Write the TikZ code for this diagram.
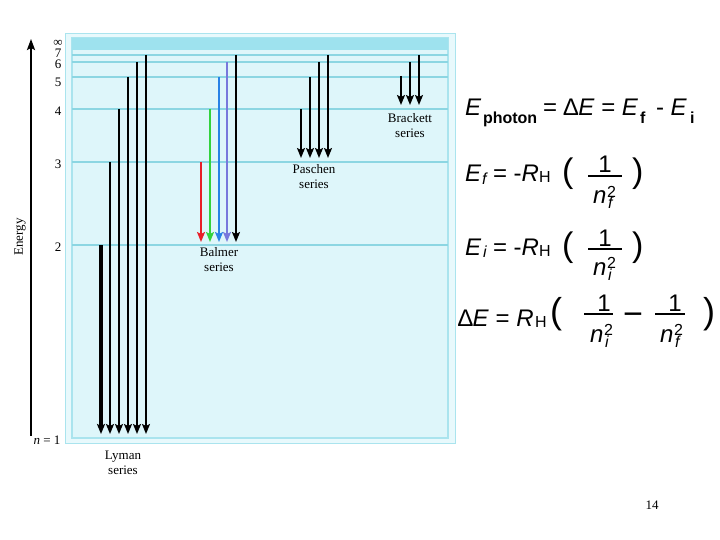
\documentclass[tikz,border=0pt]{standalone}
\usepackage{fontspec}
\setmainfont{Liberation Serif}
\newfontfamily\ar{Liberation Sans}
\usetikzlibrary{arrows.meta}
\definecolor{boxfill}{RGB}{222,246,250}
\definecolor{outerfill}{RGB}{232,249,252}
\definecolor{framec}{RGB}{170,228,238}
\definecolor{bandc}{RGB}{158,226,238}
\definecolor{lvl}{RGB}{140,214,226}
\definecolor{balred}{RGB}{232,30,40}
\definecolor{balgreen}{RGB}{50,210,60}
\definecolor{balblue}{RGB}{40,130,230}
\definecolor{balviolet}{RGB}{120,120,220}
\tikzset{
  trans/.style={-{Stealth[length=10pt,width=8pt,inset=2pt]}, line width=1.8pt},
  lvlline/.style={lvl, line width=1.4pt},
  serieslab/.style={font=\fontsize{13}{15}\selectfont, align=center, inner sep=0pt},
  numlab/.style={font=\fontsize{13}{13}\selectfont, inner sep=0pt},
  eqt/.style={anchor=base west, inner sep=0pt, outer sep=0pt},
  eqc/.style={anchor=base, inner sep=0pt, outer sep=0pt},
  bigf/.style={font=\ar\fontsize{24}{24}\selectfont},
  subf/.style={font=\ar\fontsize{16}{16}\selectfont},
  parf/.style={font=\ar\fontsize{34}{34}\selectfont},
  fracbar/.style={line width=2pt},
}
\begin{document}
\begin{tikzpicture}[x=1pt,y=-1pt]
\useasboundingbox (0,0) rectangle (720,540);
\fill[white] (0,0) rectangle (720,540);
% frame
\fill[outerfill] (65,33) rectangle (456,444);
\draw[framec, line width=1.5pt] (65.5,33.5) rectangle (455.5,443.5);
\fill[boxfill] (72,38) rectangle (448,438);
\draw[framec, line width=1.2pt] (72,38) rectangle (448,438);
\fill[bandc] (72,38) rectangle (448,50);
% levels
\foreach \y in {55,62,77,109,162,245} {\draw[lvlline] (72,\y) -- (448,\y);}
% energy axis
\draw[line width=2pt, -{Stealth[length=11pt,width=8pt,inset=2pt]}] (31,436) -- (31,39);
\node[numlab, rotate=90] (energy) at (20,237) {Energy};
% level labels
\node[numlab] (ninf) at (58,43) {∞};
\node[numlab] (n7) at (58,53) {7};
\node[numlab] (n6) at (58,64) {6};
\node[numlab] (n5) at (58,82) {5};
\node[numlab] (n4) at (58,111) {4};
\node[numlab] (n3) at (58,164) {3};
\node[numlab] (n2) at (58,247) {2};
\node[numlab] (n1) at (47,440) {\textit{n} = 1};
% Lyman
\draw[trans, line width=3.5pt] (101,245) -- (101,434);
\draw[trans] (110,162) -- (110,434);
\draw[trans] (119,109) -- (119,434);
\draw[trans] (128,77) -- (128,434);
\draw[trans] (137,62) -- (137,434);
\draw[trans, line width=1.5pt] (146,55) -- (146,434);
\node[serieslab] (lyman) at (123,463) {Lyman\\series};
% Balmer
\draw[trans, balred] (201,162) -- (201,242);
\draw[trans, balgreen] (210,109) -- (210,242);
\draw[trans, balblue] (219,77) -- (219,242);
\draw[trans, balviolet] (227,62) -- (227,242);
\draw[trans] (236,55) -- (236,242);
\node[serieslab] (balmer) at (219,260) {Balmer\\series};
% Paschen
\draw[trans] (301,109) -- (301,158);
\draw[trans] (310,77) -- (310,158);
\draw[trans] (319,62) -- (319,158);
\draw[trans] (328,55) -- (328,158);
\node[serieslab] (paschen) at (314,177) {Paschen\\series};
% Brackett
\draw[trans] (401,76) -- (401,105);
\draw[trans] (410,62) -- (410,105);
\draw[trans] (419,55) -- (419,105);
\node[serieslab] (brackett) at (410,126) {Brackett\\series};
% equation 1
\node[eqt, bigf] (e1a) at (465,116) {\textit{E}};
\node[eqt, subf] (e1b) at (483,124) {\textbf{photon}};
\node[eqt, bigf] (e1c) at (543,116) {= ∆\textit{E} = \textit{E}};
\node[eqt, subf] (e1d) at (640,124) {\textbf{f}};
\node[eqt, bigf] (e1e) at (656,116) {- \textit{E}};
\node[eqt, subf] (e1f) at (690,124) {\textbf{i}};
% equation 2
\node[eqt, bigf] (e2a) at (465,182) {\textit{E}};
\node[eqt, subf] (e2b) at (482,185) {\textit{f}};
\node[eqt, bigf] (e2c) at (493,182) {= -\textit{R}};
\node[eqt, subf] (e2d) at (539,183) {H};
\node[eqt, parf] (e2e) at (562,183) {(};
\node[eqc, bigf] (e2n) at (605,173) {1};
\draw[fracbar] (588,176) -- (622,176);
\node[eqt, bigf] (e2m) at (593,204) {\textit{n}};
\node[eqt, subf] (e2s) at (607,197) {2};
\node[eqt, subf] (e2t) at (608,209) {\textit{f}};
\node[eqt, parf] (e2p) at (632,183) {)};
% equation 3
\node[eqt, bigf] (e3a) at (465,255) {\textit{E}};
\node[eqt, subf] (e3b) at (483,258) {\textit{i}};
\node[eqt, bigf] (e3c) at (493,255) {= -\textit{R}};
\node[eqt, subf] (e3d) at (539,256) {H};
\node[eqt, parf] (e3e) at (562,256) {(};
\node[eqc, bigf] (e3n) at (605,247) {1};
\draw[fracbar] (588,249) -- (622,249);
\node[eqt, bigf] (e3m) at (593,275) {\textit{n}};
\node[eqt, subf] (e3s) at (607,268) {2};
\node[eqt, subf] (e3t) at (608,280) {\textit{i}};
\node[eqt, parf] (e3p) at (632,256) {)};
% equation 4
\node[eqt, bigf] (e4a) at (458,326) {∆\textit{E} = \textit{R}};
\node[eqt, subf] (e4d) at (535,327) {H};
\node[eqt, parf, font=\ar\fontsize{36}{36}\selectfont] (e4e) at (550,323) {(};
\node[eqc, bigf] (e4n) at (604,311) {1};
\draw[fracbar] (584,314) -- (613,314);
\node[eqt, bigf] (e4m) at (590,342) {\textit{n}};
\node[eqt, subf] (e4s) at (604,335) {2};
\node[eqt, subf] (e4t) at (605,347) {\textit{i}};
\node[eqt, parf] (e4minus) at (623,325) {−};
\node[eqc, bigf] (e4n2) at (675,311) {1};
\draw[fracbar] (655,314) -- (685,314);
\node[eqt, bigf] (e4m2) at (660,342) {\textit{n}};
\node[eqt, subf] (e4s2) at (674,335) {2};
\node[eqt, subf] (e4t2) at (675,347) {\textit{f}};
\node[eqt, parf, font=\ar\fontsize{36}{36}\selectfont] (e4p) at (703,323) {)};
% page number
\node[numlab] (page) at (652,505) {14};
\end{tikzpicture}
\end{document}
